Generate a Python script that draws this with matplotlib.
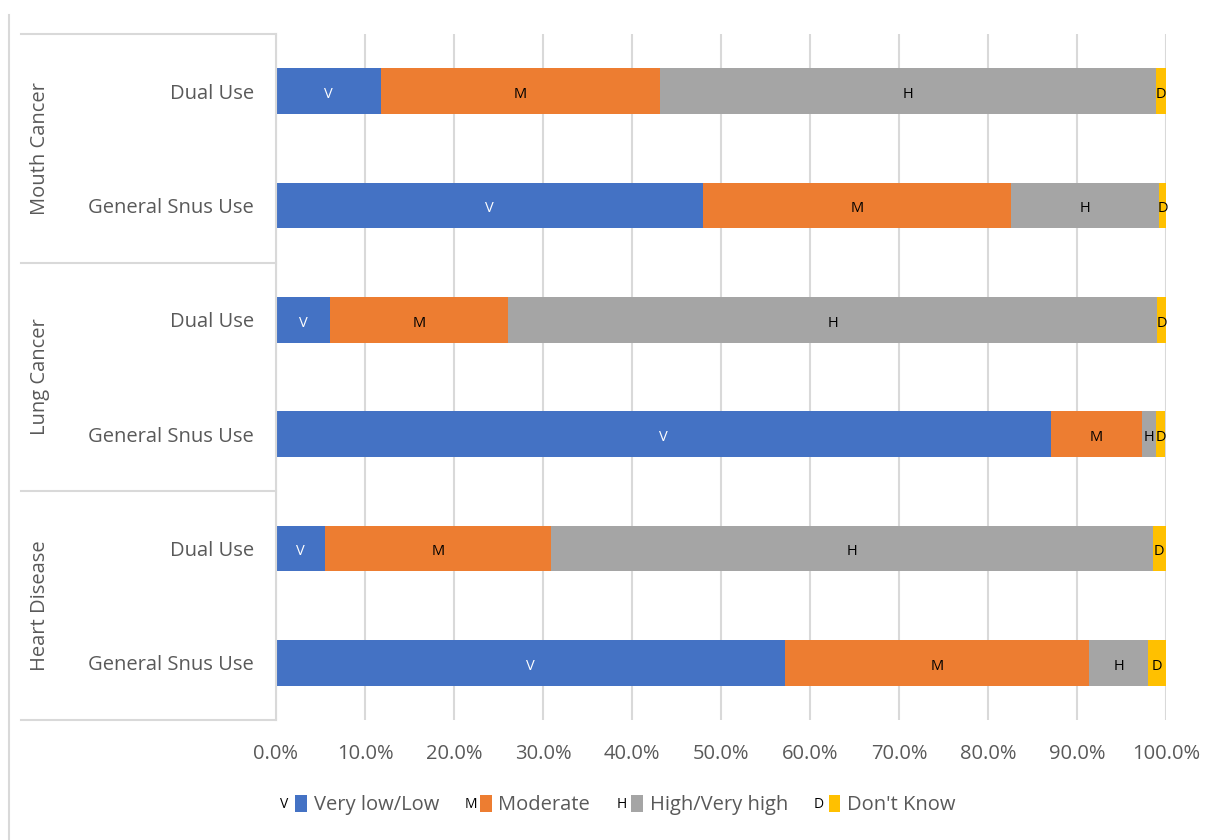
import matplotlib
matplotlib.use("Agg")
import matplotlib.pyplot as plt
from matplotlib.lines import Line2D
from matplotlib.patches import Rectangle
from matplotlib.legend_handler import HandlerBase
from matplotlib.ticker import FuncFormatter

# ---- data ----
groups = ["Mouth Cancer", "Lung Cancer", "Heart Disease"]
rows = ["Dual Use", "General Snus Use"] * 3
series = ["Very low/Low", "Moderate", "High/Very high", "Don't Know"]
letters = ["V", "M", "H", "D"]
very_low = [11.8, 48.0, 6.1, 87.1, 5.5, 57.2]
moderate = [31.3, 34.6, 20.0, 10.2, 25.4, 34.2]
high = [55.8, 16.6, 72.9, 1.6, 67.6, 6.6]
dont_know = [1.1, 0.8, 1.0, 1.0, 1.5, 2.0]
values = [very_low, moderate, high, dont_know]
colors = ["#4472C4", "#ED7D31", "#A5A5A5", "#FFC000"]
label_colors = ["white", "black", "black", "black"]

plt.rcParams['font.family'] = ['Open Sans', 'DejaVu Sans']
fig = plt.figure(figsize=(12.22, 8.4), dpi=100)
ax = fig.add_axes([276/1222, 1-720/840, 890/1222, (720-34)/840])

ypos = list(range(len(rows)))
left = [0.0] * len(rows)
for vals, col, lc, let, name in zip(values, colors, label_colors, letters, series):
    bars = ax.barh(ypos, vals, left=left, height=0.4, color=col, label=name)
    anns = ax.bar_label(bars, labels=[let] * len(vals), label_type='center',
                        color=lc, fontsize=10.5, padding=0)
    for a in anns:
        a.xyann = (0, -2.5)
    left = [l + v for l, v in zip(left, vals)]

ax.set_xlim(0, 100)
ax.set_ylim(len(rows) - 0.5, -0.5)
ax.set_xticks(range(0, 101, 10))
ax.xaxis.set_major_formatter(FuncFormatter(lambda v, p: f"{v:.1f}%"))
ax.set_yticks(ypos)
ax.set_yticklabels(rows)
ax.tick_params(axis='both', length=0, labelsize=14.5, colors="#595959")
ax.tick_params(axis='y', pad=16)
ax.tick_params(axis='x', pad=17)
ax.grid(axis='x', color="#D9D9D9", linewidth=1.5)
ax.set_axisbelow(True)
for s in ["top", "right", "bottom"]:
    ax.spines[s].set_visible(False)
ax.spines["left"].set_color("#D9D9D9")
ax.spines["left"].set_linewidth(1.5)

# group separators and labels
trans = ax.get_yaxis_transform()
xl = -(276 - 21) / 890
for b in [-0.5, 1.5, 3.5, 5.5]:
    ax.add_line(Line2D([xl, 0], [b, b], transform=trans, color="#D9D9D9",
                       linewidth=1.5, clip_on=False))
for i, g in enumerate(groups):
    ax.text(-(276 - 40) / 890, 2 * i + 0.5, g, transform=trans, rotation=90,
            ha='center', va='center', fontsize=14.5, color="#595959")

# outer border
fig.add_artist(Line2D([9/1222, 9/1222], [0, 1 - 15/840], transform=fig.transFigure,
                      color="#D9D9D9", linewidth=1.5))


class LetterBoxHandler(HandlerBase):
    def __init__(self, letter):
        super().__init__()
        self.letter = letter

    def create_artists(self, legend, orig_handle, xdescent, ydescent, width,
                       height, fontsize, trans):
        t = plt.Text(xdescent + 0, ydescent + height / 2 - 1, self.letter,
                     fontsize=10, color="black", ha='left', va='center',
                     transform=trans)
        r = Rectangle((xdescent + 10.5, ydescent + height / 2 - 6.5), 8.5, 12,
                      facecolor=orig_handle.get_facecolor(), edgecolor='none',
                      transform=trans)
        return [t, r]


handles = [Rectangle((0, 0), 1, 1, facecolor=c) for c in colors]
fig.legend(handles, series, loc='center', bbox_to_anchor=(618/1222, 1 - 805/840),
           ncol=4, frameon=False, fontsize=14.5, labelcolor="#595959",
           handler_map={h: LetterBoxHandler(l) for h, l in zip(handles, letters)},
           handlelength=1.35, handletextpad=0.3, columnspacing=1.3)

fig.savefig("out.png", dpi=100)
